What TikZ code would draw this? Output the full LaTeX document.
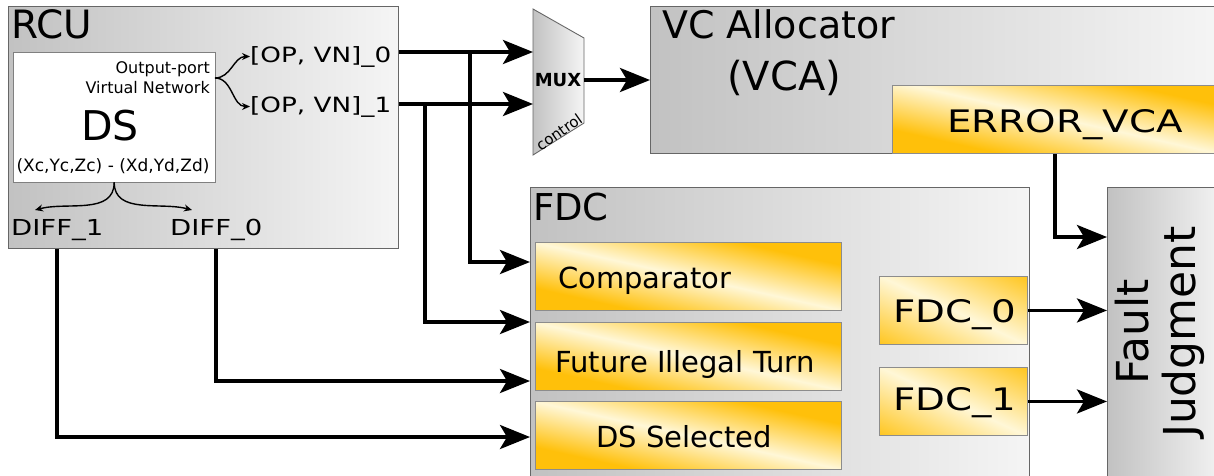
\documentclass[tikz,border=0pt]{standalone}
\usepackage{fontspec}
\setmainfont{DejaVu Sans}
\newfontfamily\widefont[FakeStretch=1.25]{DejaVu Sans}
\usetikzlibrary{arrows.meta,positioning}

\definecolor{gold}{RGB}{255,192,10}
\definecolor{goldlight}{RGB}{255,247,215}
\pgfdeclarehorizontalshading{goldshade}{100bp}{color(0bp)=(gold); color(30bp)=(gold); color(50bp)=(goldlight); color(70bp)=(gold); color(100bp)=(gold)}
\pgfdeclarehorizontalshading{goldshadeshort}{100bp}{color(0bp)=(gold); color(13bp)=(gold); color(50bp)=(goldlight); color(87bp)=(gold); color(100bp)=(gold)}

\tikzset{
  grayfill/.style={draw=black!60, line width=0.9pt, left color=black!24, right color=black!4},
  graybox/.style={grayfill, inner sep=0pt, anchor=north west},
  goldbox/.style={draw=black!45, line width=0.9pt, shading=goldshade, shading angle=77.5, inner sep=0pt, anchor=north west},
  goldsmall/.style={goldbox, shading=goldshadeshort, shading angle=65},
  lbl/.style={inner sep=0pt},
  conn/.style={line width=3.6pt, -{Stealth[length=30pt,width=24pt,inset=7pt]}},
  brarrow/.style={line width=1.4pt, -{Stealth[length=8pt,width=7pt]}},
}

\begin{document}
\begin{tikzpicture}[x=1pt,y=-1pt]
    \clip (0,0) rectangle (1214,475);
    % RCU
    \node[graybox, minimum width=390pt, minimum height=242pt] (rcu) at (8,6) {};
    \node[lbl, anchor=base west, font=\fontsize{39}{44}\selectfont] (rcutitle) at (11,38) {RCU};
    \node[draw=black!50, fill=white, minimum width=202pt, minimum height=130pt, anchor=north west, inner sep=0pt] (ds) at (13,52) {};
    \node[lbl, anchor=base east, font=\fontsize{16}{19}\selectfont] (opname) at (210,73) {Output-port};
    \node[lbl, anchor=base east, font=\fontsize{16}{19}\selectfont] (vnname) at (210,93) {Virtual Network};
    \node[lbl, anchor=base, font=\fontsize{41}{48}\selectfont] (dsname) at (110,140) {DS};
    \node[lbl, anchor=base, font=\fontsize{17}{20}\selectfont] (dspair) at (113,171) {(Xc,Yc,Zc) - (Xd,Yd,Zd)};
    \node[lbl, anchor=base west, font=\widefont\fontsize{21}{25}\selectfont] (op0) at (250,62) {[OP, VN]\_0};
    \node[lbl, anchor=base west, font=\widefont\fontsize{21}{25}\selectfont] (op1) at (250,112) {[OP, VN]\_1};
    \node[lbl, anchor=base west, font=\widefont\fontsize{22}{26}\selectfont] (diff1) at (11,235) {DIFF\_1};
    \node[lbl, anchor=base west, font=\widefont\fontsize{22}{26}\selectfont] (diff0) at (170,235) {DIFF\_0};
    % braces inside RCU
    \coordinate (dsR) at (215,78);
    \coordinate (d1tip) at (35,210);
    \coordinate (d0tip) at (192,210);
    \draw[brarrow] (dsR) to[out=0,in=180] (op0.west);
    \draw[brarrow] (dsR) to[out=0,in=180] (op1.west);
    \draw[brarrow] (ds.south) to[out=-90,in=15] (d1tip);
    \draw[brarrow] (ds.south) to[out=-90,in=165] (d0tip);
    % MUX
    \draw[grayfill] (533,9) -- (584,38) -- (584,123) -- (533,155) -- cycle;
    \node[lbl, font=\bfseries\fontsize{18}{21}\selectfont] (muxname) at (558,80) {MUX};
    \node[lbl, rotate=35, font=\fontsize{15}{18}\selectfont] (muxctl) at (559,132) {control};
    \coordinate (mux0) at (533,52);
    \coordinate (mux1) at (533,104);
    \coordinate (muxout) at (584,80);
    % VCA
    \node[graybox, minimum width=570pt, minimum height=147pt] (vca) at (650,6) {};
    \node[lbl, anchor=base west, font=\fontsize{38}{44}\selectfont] (vcatitle) at (662,38) {VC Allocator};
    \node[lbl, anchor=base west, font=\fontsize{40}{46}\selectfont] (vcashort) at (727,90) {(VCA)};
    \node[goldbox, minimum width=346pt, minimum height=68pt] (err) at (892,85) {};
    \node[lbl, anchor=base, font=\widefont\fontsize{31}{36}\selectfont] (errname) at (1065,132) {ERROR\_VCA};
    % FDC
    \node[graybox, minimum width=499pt, minimum height=300pt] (fdc) at (530,187) {};
    \node[lbl, anchor=base west, font=\fontsize{37}{44}\selectfont] (fdctitle) at (533,220) {FDC};
    \node[goldbox, minimum width=306pt, minimum height=68pt] (cmp) at (535,242) {};
    \node[lbl, anchor=base west, font=\fontsize{29}{34}\selectfont] (cmpname) at (558,288) {Comparator};
    \node[goldbox, minimum width=306pt, minimum height=68pt] (fit) at (535,322) {};
    \node[lbl, anchor=base, font=\fontsize{29}{34}\selectfont] (fitname) at (685,372) {Future Illegal Turn};
    \node[goldbox, minimum width=306pt, minimum height=68pt] (sel) at (535,401) {};
    \node[lbl, anchor=base, font=\fontsize{29}{34}\selectfont] (selname) at (684,447) {DS Selected};
    \node[goldsmall, minimum width=148pt, minimum height=68pt] (fdc0) at (879,276) {};
    \node[lbl, anchor=base, font=\widefont\fontsize{31}{36}\selectfont] (fdc0name) at (955,322) {FDC\_0};
    \node[goldsmall, minimum width=148pt, minimum height=68pt] (fdc1) at (879,367) {};
    \node[lbl, anchor=base, font=\widefont\fontsize{31}{36}\selectfont] (fdc1name) at (955,410) {FDC\_1};
    % Fault Judgment
    \node[graybox, minimum width=120pt, minimum height=300pt] (fault) at (1107,187) {};
    \node[lbl, rotate=90, align=center, font=\fontsize{44}{47}\selectfont] (faultname) at (1160,332) {Fault\\Judgment};
    % Connectors
    \coordinate (tap0) at (470,52);
    \coordinate (tap1) at (425,104);
    \coordinate (fdcA) at (fdc.west |- 0,262);
    \coordinate (fdcB) at (fdc.west |- 0,322);
    \coordinate (fdcC) at (fdc.west |- 0,381);
    \coordinate (fdcD) at (fdc.west |- 0,437);
    \coordinate (errtap) at (err.south -| 1055,0);
    \coordinate (faultA) at (fault.west |- 0,237);
    \draw[conn] (rcu.east |- mux0) -- (mux0);
    \draw[conn] (rcu.east |- mux1) -- (mux1);
    \draw[conn] (tap0) |- (fdcA);
    \draw[conn] (tap1) |- (fdcB);
    \draw[conn] (rcu.south -| diff0) |- (fdcC);
    \draw[conn] (rcu.south -| diff1) |- (fdcD);
    \draw[conn] (muxout) -- (vca.west |- muxout);
    \draw[conn] (errtap) |- (faultA);
    \draw[conn] (fdc0.east) -- (fault.west |- fdc0.east);
    \draw[conn] (fdc1.east) -- (fault.west |- fdc1.east);
\end{tikzpicture}
\end{document}
